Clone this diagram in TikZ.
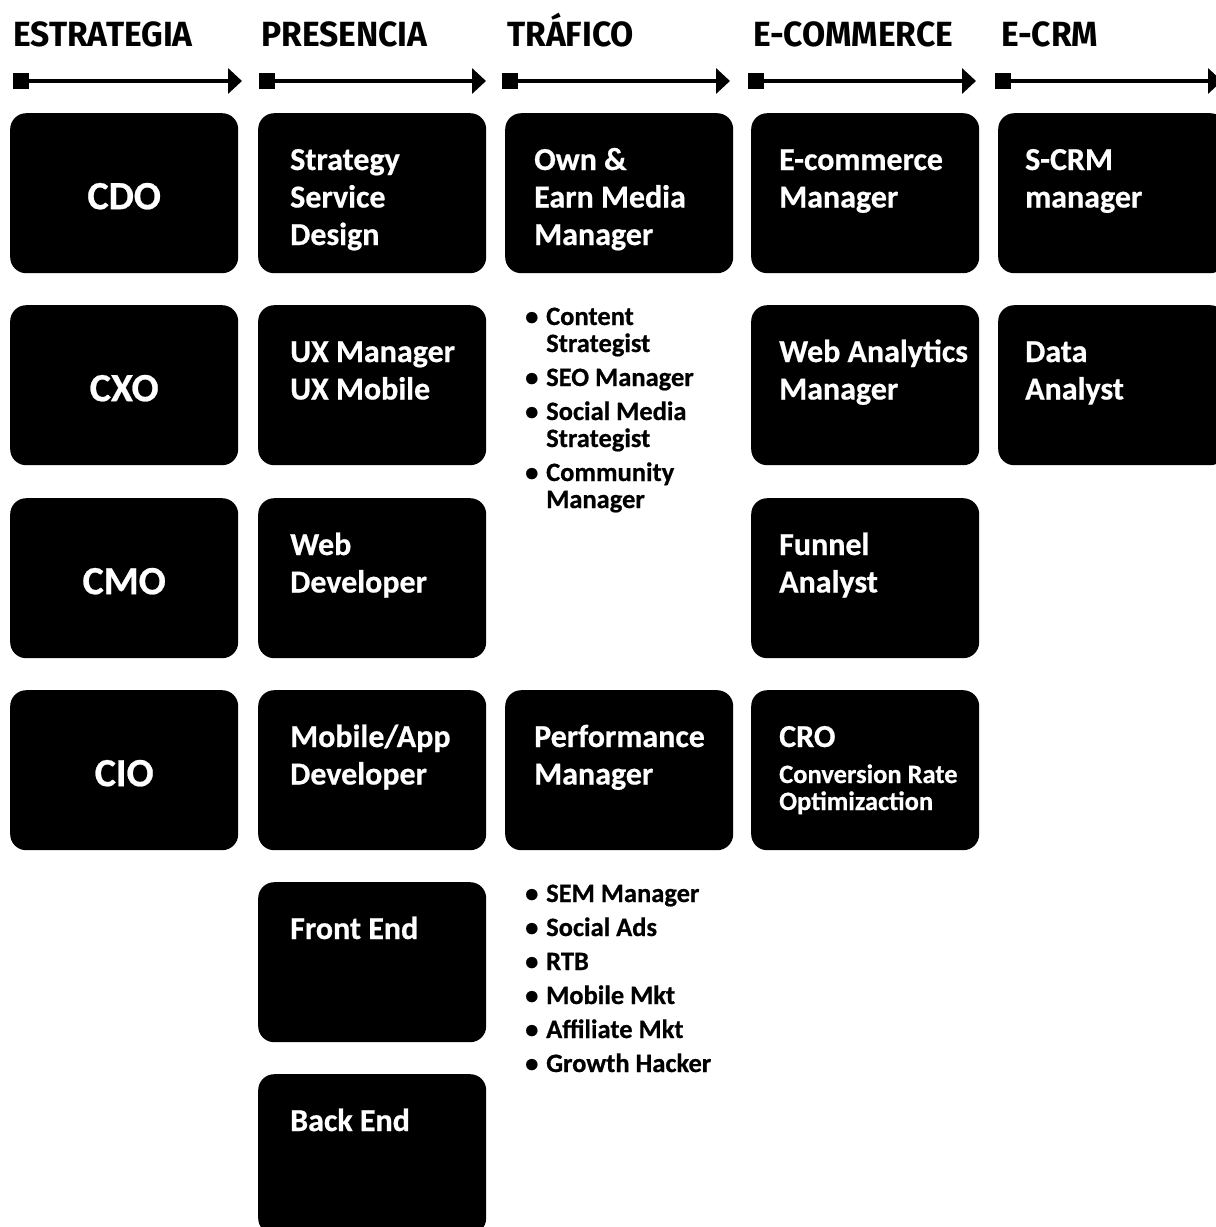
\documentclass[tikz,border=0pt]{standalone}
\usepackage{fontspec}
\setmainfont{Carlito}[BoldFeatures={FakeBold=0.6}]
\newfontfamily\hdrfont{Fira Sans}[FakeStretch=0.96]
\usetikzlibrary{calc,arrows.meta}
\tikzset{
  box/.style={draw=none,fill=black,rounded corners=16pt,minimum width=228pt,minimum height=160pt,anchor=north west,inner sep=0pt},
  big/.style={text=white,inner sep=0pt,anchor=center,font=\fontsize{40}{48}\selectfont\bfseries},
  lbl/.style={text=white,inner sep=0pt,anchor=base west,font=\fontsize{32}{37.5}\selectfont\bfseries},
  blist/.style={text=black,inner sep=0pt,anchor=base west,font=\fontsize{26.5}{27}\selectfont\bfseries},
  hdr/.style={text=black,inner sep=0pt,anchor=base west,font=\hdrfont\fontsize{35}{40}\selectfont\bfseries},
  sqr/.style={fill=black,draw=none,minimum size=16pt,inner sep=0pt},
  arr/.style={line width=4pt,-{Triangle[length=14pt,width=25pt]}}
}
\newcommand{\lines}[1]{\begin{tabular}[t]{@{}l@{}}#1\end{tabular}}
\newcommand{\bl}{\makebox[21pt][l]{•}}
\begin{document}
\begin{tikzpicture}[x=1pt,y=-1pt]
\useasboundingbox (0,0) rectangle (1216,1227);
\clip (0,0) rectangle (1216,1227);
% headers
\node[hdr] (h1) at (13,46) {ESTRATEGIA};
\node[hdr] (h2) at (261,46) {PRESENCIA};
\node[hdr] (h3) at (507,46) {TRÁFICO};
\node[hdr] (h4) at (753,46) {E-COMMERCE};
\node[hdr] (h5) at (1001,46) {E-CRM};
% arrows
\foreach \i/\s/\t in {1/13/242,2/259/486,3/502/730,4/748/976,5/995/1222}{
  \node[sqr,anchor=west] (s\i) at (\s,81) {};
  \coordinate (t\i) at (\t,81);
  \draw[arr] (s\i.east) -- (t\i);
}
% column 1
\node[box] (cdo) at (10,113) {};
\node[box] (cxo) at (10,305) {};
\node[box] (cmo) at (10,498) {};
\node[box] (cio) at (10,690) {};
\node[big] (cdot) at ($(cdo.center)+(0,3)$) {CDO};
\node[big] (cxot) at ($(cxo.center)+(0,3)$) {CXO};
\node[big] (cmot) at ($(cmo.center)+(0,3)$) {CMO};
\node[big] (ciot) at ($(cio.center)+(0,3)$) {CIO};
% column 2
\node[box] (ssd) at (258,113) {};
\node[box] (ux) at (258,305) {};
\node[box] (web) at (258,498) {};
\node[box] (mob) at (258,690) {};
\node[box] (fe) at (258,882) {};
\node[box] (be) at (258,1074) {};
\node[lbl] (ssdt) at ($(ssd.north west)+(32,57)$) {\lines{Strategy\\Service\\Design}};
\node[lbl] (uxt) at ($(ux.north west)+(32,57)$) {\lines{UX Manager\\UX Mobile}};
\node[lbl] (webt) at ($(web.north west)+(32,57)$) {\lines{Web\\Developer}};
\node[lbl] (mobt) at ($(mob.north west)+(32,57)$) {\lines{Mobile/App\\Developer}};
\node[lbl] (fet) at ($(fe.north west)+(32,57)$) {Front End};
\node[lbl] (bet) at ($(be.north west)+(32,57)$) {Back End};
% column 3
\node[box] (own) at (505,113) {};
\node[box] (perf) at (505,690) {};
\node[lbl] (ownt) at ($(own.north west)+(29,57)$) {\lines{Own \&\\Earn Media\\Manager}};
\node[lbl] (perft) at ($(perf.north west)+(29,57)$) {\lines{Performance\\Manager}};
\node[blist] (list1) at (525,325) {\begin{tabular}[t]{@{}l@{}l@{}}
\bl&Content\\&Strategist\\[7pt]
\bl&SEO Manager\\[7pt]
\bl&Social Media\\&Strategist\\[7pt]
\bl&Community\\&Manager\end{tabular}};
\node[blist] (list2) at (525,902) {\begin{tabular}[t]{@{}l@{}l@{}}
\bl&SEM Manager\\[7pt]
\bl&Social Ads\\[7pt]
\bl&RTB\\[7pt]
\bl&Mobile Mkt\\[7pt]
\bl&Affiliate Mkt\\[7pt]
\bl&Growth Hacker\end{tabular}};
% column 4
\node[box] (ecom) at (751,113) {};
\node[box] (wam) at (751,305) {};
\node[box] (fun) at (751,498) {};
\node[box] (cro) at (751,690) {};
\node[lbl] (ecomt) at ($(ecom.north west)+(28,57)$) {\lines{E-commerce\\Manager}};
\node[lbl] (wamt) at ($(wam.north west)+(28,57)$) {\lines{Web Analytics\\Manager}};
\node[lbl] (funt) at ($(fun.north west)+(28,57)$) {\lines{Funnel\\Analyst}};
\node[lbl] (crot) at ($(cro.north west)+(28,57)$) {CRO};
\node[lbl,font=\fontsize{26.5}{27}\selectfont\bfseries] (crosub) at ($(cro.north west)+(28,93)$) {\lines{Conversion Rate\\Optimizaction}};
% column 5
\node[box] (scrm) at (998,113) {};
\node[box] (data) at (998,305) {};
\node[lbl] (scrmt) at ($(scrm.north west)+(27,57)$) {\lines{S-CRM\\manager}};
\node[lbl] (datat) at ($(data.north west)+(27,57)$) {\lines{Data\\Analyst}};
\end{tikzpicture}
\end{document}
